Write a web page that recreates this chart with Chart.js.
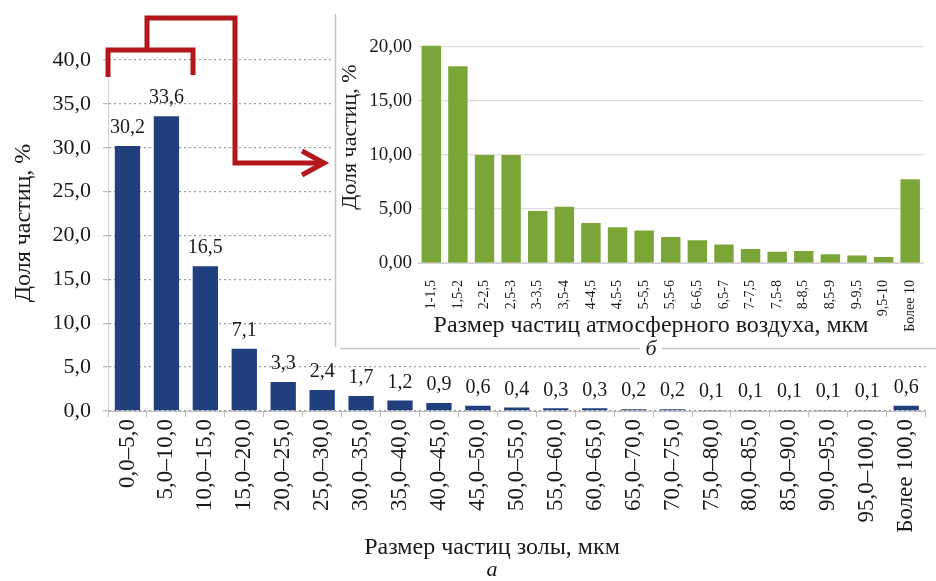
<!DOCTYPE html>
<html><head><meta charset="utf-8">
<script src="https://cdn.jsdelivr.net/npm/chart.js@4.4.0/dist/chart.umd.min.js"></script>
<style>
html,body{margin:0;padding:0;background:#fff;}
#wrap{position:relative;width:936px;height:581px;overflow:hidden;background:#fff;}
#main{position:absolute;left:0;top:0;}
#inset{position:absolute;left:334px;top:14px;}
</style></head><body>
<div id="wrap">
<canvas id="main" width="936" height="581"></canvas>
<canvas id="inset" width="602" height="348"></canvas>
</div>
<script>
// ---- data: (a) ash particle sizes ----
const ashCategories = ['0,0–5,0','5,0–10,0','10,0–15,0','15,0–20,0','20,0–25,0','25,0–30,0','30,0–35,0','35,0–40,0','40,0–45,0','45,0–50,0','50,0–55,0','55,0–60,0','60,0–65,0','65,0–70,0','70,0–75,0','75,0–80,0','80,0–85,0','85,0–90,0','90,0–95,0','95,0–100,0','Более 100,0'];
const ashValues = [30.2, 33.6, 16.5, 7.1, 3.3, 2.4, 1.7, 1.2, 0.9, 0.6, 0.4, 0.3, 0.3, 0.2, 0.2, 0.1, 0.1, 0.1, 0.1, 0.1, 0.6];
const ashTicks = [0, 5, 10, 15, 20, 25, 30, 35, 40];

// ---- data: (б) atmospheric air particle sizes ----
const airCategories = ['1-1,5','1,5-2','2-2,5','2,5-3','3-3,5','3,5-4','4-4,5','4,5-5','5-5,5','5,5-6','6-6,5','6,5-7','7-7,5','7,5-8','8-8,5','8,5-9','9-9,5','9,5-10','Более 10'];
const airValues = [20.1, 18.2, 10.0, 10.0, 4.8, 5.2, 3.7, 3.3, 3.0, 2.4, 2.1, 1.7, 1.3, 1.05, 1.1, 0.8, 0.7, 0.55, 7.75];
const airTicks = [0, 5, 10, 15, 20];

// ---- texts ----
const yTitle = 'Доля частиц, %';
const ashXTitle = 'Размер частиц золы, мкм';
const airXTitle = 'Размер частиц атмосферного воздуха, мкм';
const captionA = 'а';
const captionB = 'б';

const SERIF = '"Liberation Serif", "Times New Roman", serif';
const TXT = '#1a1a1a';
const comma = (v, d) => v.toFixed(d).replace('.', ',');

const mainPlugin = {
  id: 'mainDecor',
  beforeDraw(chart) {
    const c = chart.ctx;
    c.save(); c.fillStyle = '#fff'; c.fillRect(0, 0, chart.width, chart.height); c.restore();
  },
  afterDatasetsDraw(chart) {
    const c = chart.ctx;
    const meta = chart.getDatasetMeta(0);
    c.save();
    c.fillStyle = TXT;
    c.font = '20px ' + SERIF;
    c.textAlign = 'center';
    c.textBaseline = 'middle';
    meta.data.forEach((bar, i) => {
      c.fillText(comma(ashValues[i], 1), bar.x, bar.y - 18);
    });
    c.restore();
  },
  afterDraw(chart) {
    const c = chart.ctx;
    c.save();
    c.fillStyle = TXT;
    c.textAlign = 'center';
    c.textBaseline = 'middle';
    c.font = '24px ' + SERIF;
    c.save(); c.translate(24, 223); c.rotate(-Math.PI / 2); c.fillText(yTitle, 0, 0); c.restore();
    c.font = '24px ' + SERIF;
    c.fillText(ashXTitle, 492, 548);
    c.font = 'italic 22px ' + SERIF;
    c.fillText(captionA, 492, 570);
    // red arrow
    c.strokeStyle = '#b3171c';
    c.lineWidth = 5;
    c.lineJoin = 'miter';
    c.lineCap = 'butt';
    c.beginPath();
    c.moveTo(108, 77); c.lineTo(108, 50); c.lineTo(193, 50); c.lineTo(193, 75);
    c.stroke();
    c.beginPath();
    c.moveTo(147, 50); c.lineTo(147, 18); c.lineTo(235, 18); c.lineTo(235, 163); c.lineTo(322, 163);
    c.stroke();
    c.beginPath();
    c.moveTo(302, 151); c.lineTo(324, 163); c.lineTo(302, 175);
    c.stroke();
    c.restore();
  }
};

new Chart(document.getElementById('main'), {
  type: 'bar',
  data: {
    labels: ashCategories,
    datasets: [{ data: ashValues, backgroundColor: '#203f7c', borderWidth: 0, barPercentage: 0.65, categoryPercentage: 1 }]
  },
  options: {
    responsive: false, animation: false, devicePixelRatio: 1,
    layout: { padding: { top: 60, right: 9, left: 0, bottom: 0 } },
    plugins: { legend: { display: false }, tooltip: { enabled: false } },
    scales: {
      x: {
        afterFit: s => { s.height = 170; },
        grid: { drawOnChartArea: false, tickLength: 6, color: '#bdbdbd' },
        border: { color: '#bdbdbd' },
        ticks: { autoSkip: false, minRotation: 90, maxRotation: 90, padding: 2, color: TXT, font: { family: SERIF, size: 23 } }
      },
      y: {
        min: 0, max: 40,
        afterFit: s => { s.width = 108; },
        afterBuildTicks: s => { s.ticks = ashTicks.map(v => ({ value: v })); },
        grid: { color: '#9a9a9a', lineWidth: 1.3, tickLength: 5, tickColor: '#bbbbbb' },
        border: { color: '#d0d0d0', dash: [2, 3], display: true },
        ticks: { padding: 12, color: TXT, font: { family: SERIF, size: 22 }, callback: v => comma(v, 1) }
      }
    }
  },
  plugins: [mainPlugin]
});

const insetPlugin = {
  id: 'insetDecor',
  beforeDraw(chart) {
    const c = chart.ctx;
    c.save(); c.fillStyle = '#fff'; c.fillRect(0, 0, chart.width, chart.height); c.restore();
  },
  afterDraw(chart) {
    const c = chart.ctx;
    c.save();
    // frame
    c.strokeStyle = '#c4c4c4';
    c.lineWidth = 1.5;
    c.beginPath();
    c.moveTo(1.5, 0); c.lineTo(1.5, 333);
    c.moveTo(6, 334.5); c.lineTo(306, 334.5);
    c.moveTo(328, 334.5); c.lineTo(602, 334.5);
    c.stroke();
    c.fillStyle = TXT;
    c.textAlign = 'center';
    c.textBaseline = 'middle';
    c.font = '22px ' + SERIF;
    c.save(); c.translate(16, 123); c.rotate(-Math.PI / 2); c.fillText(yTitle, 0, 0); c.restore();
    c.font = '24px ' + SERIF;
    c.fillText(airXTitle, 317, 312);
    c.font = 'italic 22px ' + SERIF;
    c.fillText(captionB, 317, 335);
    c.restore();
  }
};

new Chart(document.getElementById('inset'), {
  type: 'bar',
  data: {
    labels: airCategories,
    datasets: [{ data: airValues, backgroundColor: '#7aa637', borderWidth: 0, barPercentage: 0.73, categoryPercentage: 1 }]
  },
  options: {
    responsive: false, animation: false, devicePixelRatio: 1,
    layout: { padding: { top: 22, right: 0, left: 0, bottom: 0 } },
    plugins: { legend: { display: false }, tooltip: { enabled: false } },
    scales: {
      x: {
        afterFit: s => { s.height = 99; },
        grid: { display: false },
        border: { color: '#d6d6d6' },
        ticks: { autoSkip: false, minRotation: 90, maxRotation: 90, padding: 9, color: TXT, font: { family: SERIF, size: 14 } }
      },
      y: {
        min: 0, max: 21, bounds: 'data',
        afterFit: s => { s.width = 84; },
        afterBuildTicks: s => { s.ticks = airTicks.map(v => ({ value: v })); },
        grid: { color: '#dcdcdc', lineWidth: 1.2, drawTicks: false },
        border: { display: false },
        ticks: { padding: 6, color: TXT, font: { family: SERIF, size: 19 }, callback: v => comma(v, 2) }
      }
    }
  },
  plugins: [insetPlugin]
});
</script>
</body></html>
